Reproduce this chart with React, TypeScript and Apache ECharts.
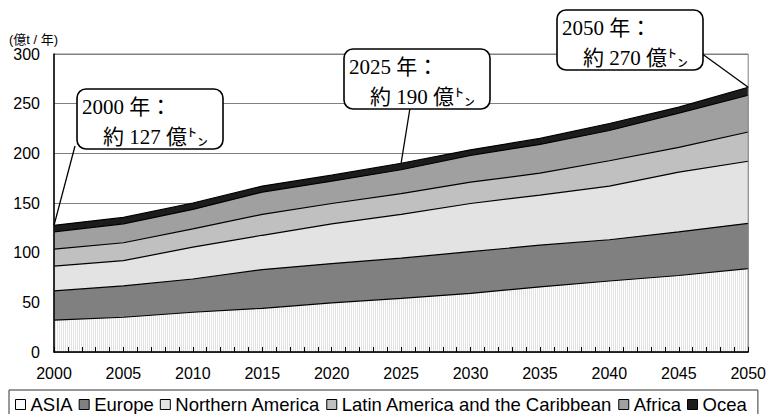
import React, { useEffect, useRef } from 'react';
import * as echarts from 'echarts';

// ---- data ----
const years = [2000, 2005, 2010, 2015, 2020, 2025, 2030, 2035, 2040, 2045, 2050];
const asia = [32, 35, 40, 44, 49.5, 54, 59, 65.5, 71.5, 77, 84];
const europe = [29.5, 31.5, 33.5, 39, 39.5, 40.5, 42, 42, 41.5, 44, 45.5];
const northernAmerica = [25, 25.5, 32, 34.5, 40, 44, 48.5, 50.5, 54, 60, 62.5];
const latinAmerica = [17, 18, 18.5, 21, 20.5, 21, 21.5, 22, 25.5, 25, 29.5];
const africa = [17.5, 19, 19.5, 22.5, 22.5, 24, 27, 29, 30.5, 34.5, 37];
const oceania = [6.5, 6.5, 6.5, 6, 6, 6.5, 5.5, 6, 7, 6, 8];

const seriesNames = ['ASIA', 'Europe', 'Northern America', 'Latin America and the Caribbean', 'Africa', 'Oceania'];
const layerValues = [asia, europe, northernAmerica, latinAmerica, africa, oceania];

const yAxisMin = 0;
const yAxisMax = 300;
const yAxisStep = 50;
const xAxisMin = 2000;
const xAxisMax = 2050;
const xAxisStep = 5;

const unitLabel = '(億t / 年)';
const calloutYears = [2000, 2025, 2050];
const calloutLine1 = ['2000 年：', '2025 年：', '2050 年：'];
const calloutLine2 = ['約 127 億㌧', '約 190 億㌧', '約 270 億㌧'];

// ---- styles / layout ----
const fillColors = ['#f3f3f3', '#808080', '#e3e3e3', '#c0c0c0', '#a0a0a0', '#1c1c1c'];
const legendColors = ['#fbfbfb', '#808080', '#e3e3e3', '#c0c0c0', '#a0a0a0', '#1c1c1c'];
const calloutBoxPos = [[77, 89], [344, 49], [557, 10]];
const calloutLineStart = [[75, 146], [410, 108], [701, 53]];
const BOX_W = 146;
const BOX_H = 60;
const SANS = "'Liberation Sans', Arial, sans-serif";
const SERIF = "'Liberation Serif', 'Noto Sans CJK JP', serif";

export default function App() {
  const ref = useRef<HTMLDivElement>(null);

  useEffect(() => {
    if (!ref.current) return;
    const chart = echarts.init(ref.current, null, { renderer: 'svg' });

    // fine vertical-stripe texture for ASIA
    const cv = document.createElement('canvas');
    cv.width = 2;
    cv.height = 2;
    const ctx = cv.getContext('2d');
    if (ctx) {
      ctx.fillStyle = '#ffffff';
      ctx.fillRect(0, 0, 2, 2);
      ctx.fillStyle = '#e2e2e2';
      ctx.fillRect(1, 0, 1, 2);
    }
    const asiaPattern: any = { image: cv, repeat: 'repeat', imageWidth: 2, imageHeight: 2 };

    // cumulative tops of each layer
    const cumulative = layerValues.map((_, k) =>
      years.map((__, i) => layerValues.slice(0, k + 1).reduce((s, arr) => s + arr[i], 0))
    );
    const totals = cumulative[cumulative.length - 1];

    const series = seriesNames
      .map((name, k) => ({
        name,
        type: 'line',
        data: years.map((y, i) => [y, cumulative[k][i]]),
        symbol: 'none',
        showSymbol: false,
        lineStyle: { color: '#000', width: 1.2 },
        itemStyle: { color: fillColors[k] },
        areaStyle: { color: k === 0 ? asiaPattern : fillColors[k], opacity: 1, origin: 'start' },
        emphasis: { disabled: true },
      }))
      .reverse();

    const option: any = {
      animation: false,
      backgroundColor: '#fff',
      grid: {
        left: 54,
        right: 19,
        top: 54,
        bottom: 62,
        show: true,
        borderColor: '#808080',
        borderWidth: 1,
        backgroundColor: 'transparent',
        z: 5,
      },
      xAxis: {
        type: 'value',
        min: xAxisMin,
        max: xAxisMax,
        interval: xAxisStep,
        z: 10,
        axisLine: { show: true, lineStyle: { color: '#000', width: 1.5 } },
        axisTick: { show: true, inside: true, length: 5, lineStyle: { color: '#000' } },
        minorTick: { show: true, splitNumber: 5, length: 5, lineStyle: { color: '#000' } },
        splitLine: { show: false },
        axisLabel: {
          fontSize: 16,
          color: '#000',
          fontFamily: SANS,
          margin: 13,
          formatter: (v: number) => String(v),
        },
      },
      yAxis: [
        {
          type: 'value',
          min: yAxisMin,
          max: yAxisMax,
          interval: yAxisStep,
          position: 'left',
          axisLine: { show: false },
          axisTick: { show: false },
          splitLine: { show: true, lineStyle: { color: '#808080', width: 1 } },
          axisLabel: { fontSize: 16, color: '#000', fontFamily: SANS, margin: 14 },
        },
        {
          type: 'value',
          min: yAxisMin,
          max: yAxisMax,
          interval: yAxisStep,
          position: 'left',
          z: 10,
          axisLine: { show: true, lineStyle: { color: '#000', width: 1.5 } },
          axisTick: { show: false },
          splitLine: { show: false },
          axisLabel: { show: false },
        },
      ],
      legend: {
        left: 9,
        top: 390,
        orient: 'horizontal',
        padding: [5, 6, 10, 6],
        itemGap: 6,
        itemWidth: 10,
        itemHeight: 10,
        icon: 'rect',
        borderColor: '#333',
        borderWidth: 1,
        selectedMode: false,
        textStyle: { fontSize: 18.5, fontFamily: SANS, color: '#000' },
        data: seriesNames.map((name, k) => {
          const item: any = {
            name,
            itemStyle: { color: legendColors[k], borderColor: '#000', borderWidth: 1 },
          };
          if (k === seriesNames.length - 1) {
            item.textStyle = { width: 52, overflow: 'truncate', ellipsis: ' ' };
          }
          return item;
        }),
      },
      series,
    };

    chart.setOption(option);

    const graphics: any[] = [
      {
        type: 'text',
        x: 9,
        y: 39,
        z: 100,
        style: {
          text: unitLabel,
          fontSize: 13,
          fontFamily: "'Liberation Sans', 'Noto Sans CJK JP', sans-serif",
          fill: '#000',
          verticalAlign: 'middle',
        },
      },
    ];

    calloutYears.forEach((yr, i) => {
      const idx = years.indexOf(yr);
      const end = chart.convertToPixel({ xAxisIndex: 0, yAxisIndex: 0 } as any, [yr, totals[idx]]) as number[];
      const [bx, by] = calloutBoxPos[i];
      const [sx, sy] = calloutLineStart[i];
      graphics.push(
        {
          type: 'line',
          z: 100,
          shape: { x1: sx, y1: sy, x2: end[0], y2: end[1] },
          style: { stroke: '#000', lineWidth: 1.3 },
        },
        {
          type: 'rect',
          z: 101,
          shape: { x: bx, y: by, width: BOX_W, height: BOX_H, r: 9 },
          style: { fill: '#fff', stroke: '#000', lineWidth: 1.6 },
        },
        {
          type: 'text',
          z: 102,
          x: bx + 5,
          y: by + 17.5,
          style: {
            text: calloutLine1[i],
            fontSize: 21,
            fontFamily: SERIF,
            fill: '#000',
            verticalAlign: 'middle',
          },
        },
        {
          type: 'text',
          z: 102,
          x: bx + 26,
          y: by + 47.5,
          style: {
            text: calloutLine2[i],
            fontSize: 21,
            fontFamily: SERIF,
            fill: '#000',
            verticalAlign: 'middle',
          },
        }
      );
    });

    chart.setOption({ graphic: graphics });

    return () => chart.dispose();
  }, []);

  return (
    <div
      ref={ref}
      style={{ position: 'absolute', left: 0, top: 0, width: 769, height: 414, background: '#fff' }}
    />
  );
}
